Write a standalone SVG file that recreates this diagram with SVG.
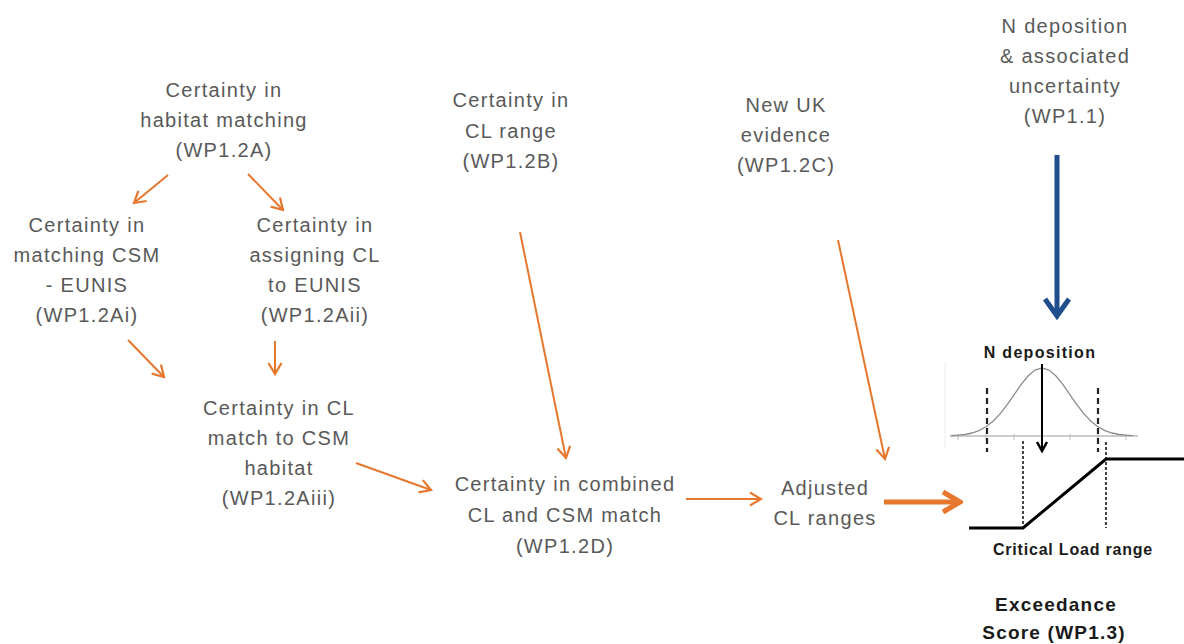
<svg xmlns="http://www.w3.org/2000/svg" width="1184" height="644" viewBox="0 0 1184 644">
<style>
.t{font-family:"Liberation Sans",Arial,sans-serif;font-size:20px;fill:#595959;text-anchor:middle;letter-spacing:1.3px}
.b{font-family:"Liberation Sans",Arial,sans-serif;font-weight:bold;fill:#1a1a1a;text-anchor:middle}
.o{stroke:#E8772E;stroke-width:2;fill:none}
</style>
<defs>
<marker id="ah" markerUnits="userSpaceOnUse" markerWidth="16" markerHeight="16" viewBox="0 0 16 16" refX="14" refY="8" orient="auto">
<path d="M3,1.5 L14,8 L3,14.5" fill="none" stroke="#E8772E" stroke-width="2.2"/>
</marker>
<marker id="ahT" markerUnits="userSpaceOnUse" markerWidth="26" markerHeight="26" viewBox="0 0 26 26" refX="23" refY="13" orient="auto">
<path d="M6,3 L23,13 L6,23" fill="none" stroke="#E8772E" stroke-width="5"/>
</marker>
<marker id="ahB" markerUnits="userSpaceOnUse" markerWidth="30" markerHeight="30" viewBox="0 0 30 30" refX="26" refY="15" orient="auto">
<path d="M9,3 L26,15 L9,27" fill="none" stroke="#1F4E8C" stroke-width="5"/>
</marker>
<marker id="ahK" markerUnits="userSpaceOnUse" markerWidth="14" markerHeight="14" viewBox="0 0 14 14" refX="12" refY="7" orient="auto">
<path d="M3,2 L12,7 L3,12" fill="none" stroke="#000" stroke-width="2.5"/>
</marker>
</defs>

<g id="n_habitat">
<text class="t" x="224" y="97">Certainty in</text>
<text class="t" x="224" y="127">habitat matching</text>
<text class="t" x="224" y="157">(WP1.2A)</text>
</g>
<g id="n_csm_eunis">
<text class="t" x="87" y="232">Certainty in</text>
<text class="t" x="87" y="262">matching CSM</text>
<text class="t" x="87" y="292">- EUNIS</text>
<text class="t" x="87" y="322">(WP1.2Ai)</text>
</g>
<g id="n_assign">
<text class="t" x="315" y="232">Certainty in</text>
<text class="t" x="315" y="262">assigning CL</text>
<text class="t" x="315" y="292">to EUNIS</text>
<text class="t" x="315" y="322">(WP1.2Aii)</text>
</g>
<g id="n_clmatch">
<text class="t" x="279" y="415">Certainty in CL</text>
<text class="t" x="279" y="445">match to CSM</text>
<text class="t" x="279" y="475">habitat</text>
<text class="t" x="279" y="505">(WP1.2Aiii)</text>
</g>
<g id="n_clrange">
<text class="t" x="511" y="107">Certainty in</text>
<text class="t" x="511" y="138">CL range</text>
<text class="t" x="511" y="168">(WP1.2B)</text>
</g>
<g id="n_newuk">
<text class="t" x="786" y="112">New UK</text>
<text class="t" x="786" y="142">evidence</text>
<text class="t" x="786" y="172">(WP1.2C)</text>
</g>
<g id="n_ndep">
<text class="t" x="1065" y="33">N deposition</text>
<text class="t" x="1065" y="63">&amp; associated</text>
<text class="t" x="1065" y="93">uncertainty</text>
<text class="t" x="1065" y="123">(WP1.1)</text>
</g>
<g id="n_combined">
<text class="t" x="565" y="491">Certainty in combined</text>
<text class="t" x="565" y="522">CL and CSM match</text>
<text class="t" x="565" y="553">(WP1.2D)</text>
</g>
<g id="n_adjusted">
<text class="t" x="825" y="495">Adjusted</text>
<text class="t" x="825" y="525">CL ranges</text>
</g>

<g id="n_exceedance">
<line x1="945" y1="362" x2="945" y2="448" stroke="#ececec" stroke-width="1"/>
<line x1="950" y1="436" x2="1138" y2="436" stroke="#9a9a9a" stroke-width="1.2"/>
<g stroke="#bbb" stroke-width="1">
<line x1="958" y1="434" x2="958" y2="440"/><line x1="986" y1="434" x2="986" y2="440"/><line x1="1014" y1="434" x2="1014" y2="440"/><line x1="1042" y1="434" x2="1042" y2="440"/><line x1="1070" y1="434" x2="1070" y2="440"/><line x1="1098" y1="434" x2="1098" y2="440"/><line x1="1126" y1="434" x2="1126" y2="440"/>
</g>
<polyline fill="none" stroke="#8c8c8c" stroke-width="1.3" points="951,435.7 958,435.2 965,434.5 972,433.0 979,430.6 986,426.8 993,421.3 1000,413.9 1007,404.9 1014,394.8 1021,384.7 1028,376.0 1035,370.1 1042,368 1049,370.1 1056,376.0 1063,384.7 1070,394.8 1077,404.9 1084,413.9 1091,421.3 1098,426.8 1105,430.6 1112,433.0 1119,434.5 1126,435.2 1133,435.7"/>
<line x1="987" y1="388" x2="987" y2="452" stroke="#222" stroke-width="2.2" stroke-dasharray="6,4"/>
<line x1="1098" y1="388" x2="1098" y2="452" stroke="#222" stroke-width="2.2" stroke-dasharray="6,4"/>
<line x1="1023" y1="441" x2="1023" y2="528" stroke="#333" stroke-width="1.8" stroke-dasharray="3,2"/>
<line x1="1106" y1="442" x2="1106" y2="528" stroke="#333" stroke-width="1.8" stroke-dasharray="3,2"/>
<line x1="1042" y1="364" x2="1042" y2="451" stroke="#000" stroke-width="2" marker-end="url(#ahK)"/>
<polyline fill="none" stroke="#000" stroke-width="3" points="969,528 1023,528 1106,459 1184,459"/>
<text class="b" x="1040" y="358" font-size="16" letter-spacing="1.3">N deposition</text>
<text class="b" x="1073" y="555" font-size="16" letter-spacing="0.8">Critical Load range</text>
<text class="b" x="1056" y="611" font-size="19" letter-spacing="1.2">Exceedance</text>
<text class="b" x="1054" y="639" font-size="19" letter-spacing="1.2">Score (WP1.3)</text>
</g>

<g id="connectors">
<line class="o" x1="168" y1="175" x2="134" y2="203" marker-end="url(#ah)"/>
<line class="o" x1="248" y1="174" x2="283" y2="210" marker-end="url(#ah)"/>
<line class="o" x1="128" y1="340" x2="164" y2="377" marker-end="url(#ah)"/>
<line class="o" x1="275" y1="341" x2="275" y2="374" marker-end="url(#ah)"/>
<line class="o" x1="356" y1="463" x2="431" y2="490" marker-end="url(#ah)"/>
<line class="o" x1="520" y1="232" x2="566" y2="458" marker-end="url(#ah)"/>
<line class="o" x1="838" y1="240" x2="885" y2="459" marker-end="url(#ah)"/>
<line class="o" x1="686" y1="499" x2="761" y2="499" marker-end="url(#ah)"/>
<line x1="884" y1="502" x2="960" y2="502" stroke="#E8772E" stroke-width="5" marker-end="url(#ahT)"/>
<line x1="1057" y1="155" x2="1057" y2="316" stroke="#1F4E8C" stroke-width="5" marker-end="url(#ahB)"/>
</g>
</svg>
